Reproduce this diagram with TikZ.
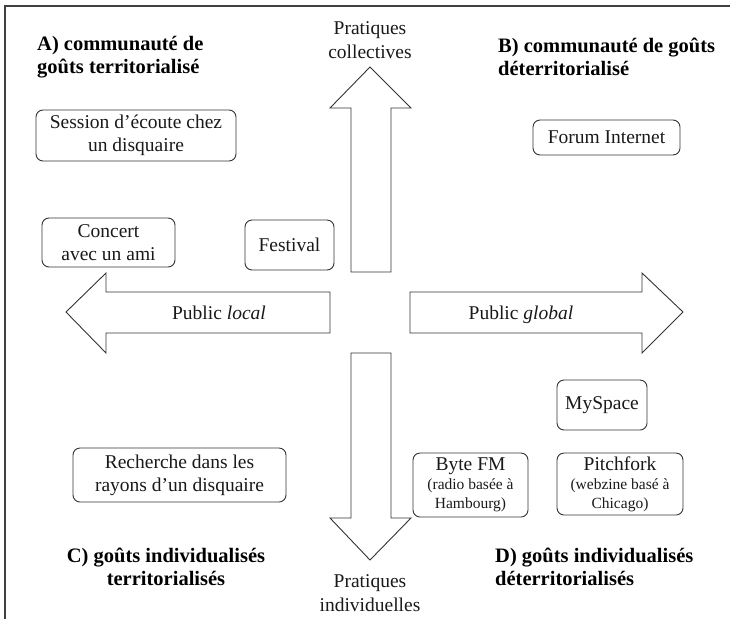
\documentclass[tikz,border=0pt]{standalone}
\usepackage{fontspec}
\setmainfont{Liberation Serif}
\begin{document}
\begin{tikzpicture}[x=1pt,y=-1pt,
  box/.style={draw=black!80, line width=0.9pt, rounded corners=7pt, align=center, inner sep=0pt, text=black!90, font=\fontsize{19.5}{23}\selectfont},
  tbox/.style={box, font=\fontsize{19.5}{19}\selectfont},
  arr/.style={draw=black!80, line width=0.9pt, line join=miter, fill=white},
  ttl/.style={font=\fontsize{20.5}{23}\selectfont\bfseries, align=left, inner sep=0pt, text=black},
  ttlc/.style={ttl, align=center},
  lbl/.style={font=\fontsize{19.5}{24.5}\selectfont, align=center, inner sep=0pt, text=black!90}]
\useasboundingbox (0,0) rectangle (730,619);
% frame
\draw[black!75, line width=1.2pt] (5,619) -- (5,6) -- (730,6);
% arrows
\draw[arr] (351,272) -- (351,108) -- (330,108) -- (370,67) -- (411,108) -- (391,108) -- (391,272) -- cycle;
\draw[arr] (351,353) -- (351,518) -- (330,518) -- (370,560) -- (411,518) -- (391,518) -- (391,353) -- cycle;
\draw[arr] (330,292) -- (106,292) -- (106,273) -- (66,312) -- (106,353) -- (106,333) -- (330,333) -- cycle;
\draw[arr] (410,292) -- (642,292) -- (642,273) -- (683,312) -- (642,353) -- (642,333) -- (410,333) -- cycle;
% axis labels
\node[lbl] (pc) at (370,40) {Pratiques\\collectives};
\node[lbl] (pi) at (370,593) {Pratiques\\individuelles};
\node[lbl, anchor=base] (pl) at (219,319) {Public \textit{local}};
\node[lbl, anchor=base] (pg) at (521,319) {Public \textit{global}};
% quadrant titles
\node[ttl, anchor=west] (ta) at (37,57) {A) communauté de\\goûts territorialisé};
\node[ttl, anchor=west] (tb) at (498,57) {B) communauté de goûts\\déterritorialisé};
\node[ttlc] (tc) at (166,567) {C) goûts individualisés\\territorialisés};
\node[ttl, anchor=west] (td) at (495,567) {D) goûts individualisés\\déterritorialisés};
% boxes
\node[box, minimum width=200, minimum height=51] (session) at (136,135.5) {Session d’écoute chez\\un disquaire};
\node[box, minimum width=133, minimum height=49] (concert) at (108.5,242.5) {Concert\\avec un ami};
\node[box, minimum width=89, minimum height=50] (festival) at (289.5,245) {Festival};
\node[box, minimum width=147, minimum height=35] (forum) at (606.5,137.5) {Forum Internet};
\node[box, minimum width=213, minimum height=54] (recherche) at (179.5,475) {Recherche dans les\\rayons d’un disquaire};
\node[box, minimum width=90, minimum height=50] (myspace) at (602,405) {MySpace};
\node[tbox, minimum width=115, minimum height=64] (byte) at (470.5,485) {Byte FM\\{\fontsize{15.5}{19}\selectfont (radio basée à}\\{\fontsize{15.5}{19}\selectfont Hambourg)}};
\node[tbox, minimum width=126, minimum height=62] (pitch) at (620,484) {Pitchfork\\{\fontsize{15.5}{19}\selectfont (webzine basé à}\\{\fontsize{15.5}{19}\selectfont Chicago)}};
\end{tikzpicture}
\end{document}
